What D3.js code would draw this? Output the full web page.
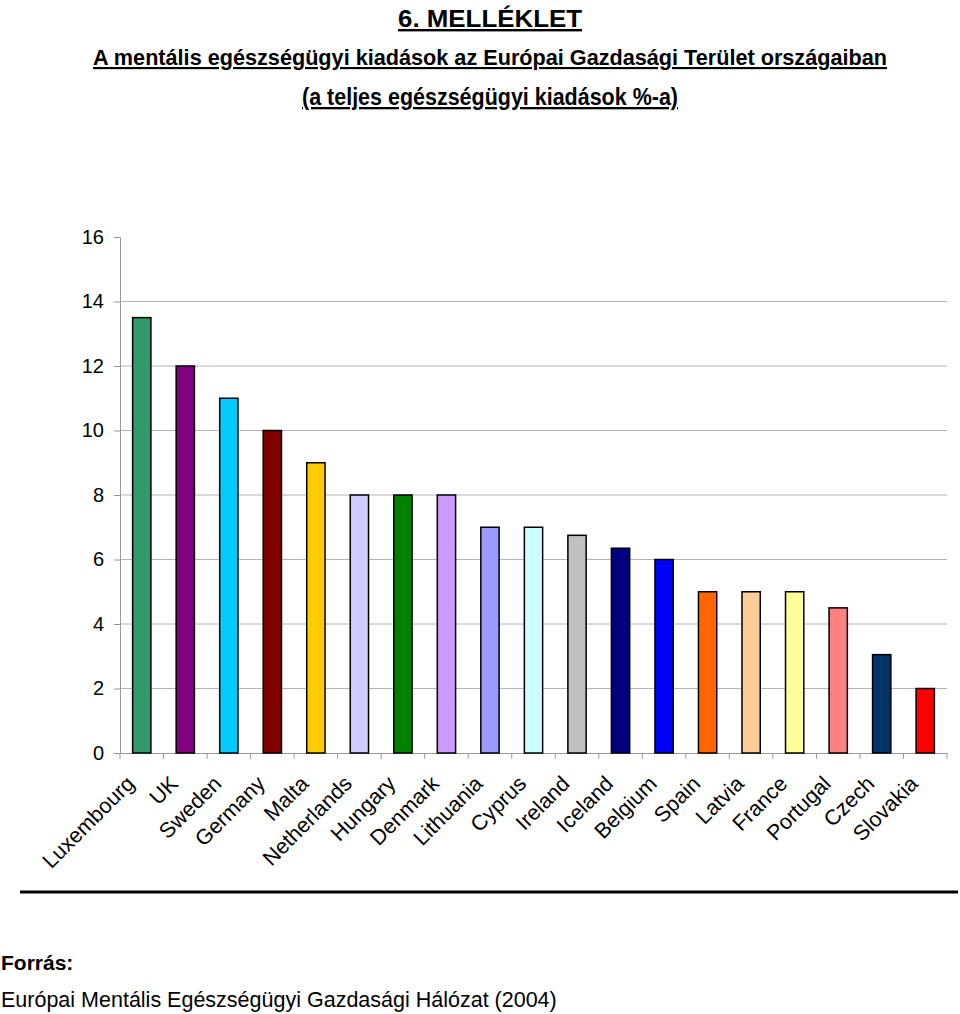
<!DOCTYPE html>
<html><head><meta charset="utf-8">
<script src="https://cdn.jsdelivr.net/npm/d3@7"></script>
<style>body{margin:0;background:#fff}svg{display:block}</style>
</head><body>
<script>
const countries = ["Luxembourg","UK","Sweden","Germany","Malta","Netherlands","Hungary","Denmark","Lithuania","Cyprus","Ireland","Iceland","Belgium","Spain","Latvia","France","Portugal","Czech","Slovakia"];
const values = [13.5,12,11,10,9,8,8,8,7,7,6.75,6.35,6,5,5,5,4.5,3.05,2];
const colors = ["#339966","#800080","#00CCFF","#800000","#FFCC00","#CCCCFF","#008000","#CC99FF","#9999FF","#CCFFFF","#C0C0C0","#000080","#0000FF","#FF6600","#FFCC99","#FFFF99","#FF8080","#003366","#FF0000"];
const yTicks = [0,2,4,6,8,10,12,14,16];
const titleLines = ["6. MELLÉKLET","A mentális egészségügyi kiadások az Európai Gazdasági Terület országaiban","(a teljes egészségügyi kiadások %-a)"];
const sourceLabel = "Forrás:";
const sourceText = "Európai Mentális Egészségügyi Gazdasági Hálózat (2004)";

(function(){
const W=960,H=1014;
const svg=d3.select("body").append("svg").attr("width",W).attr("height",H);
const pL=120,pR=947,pT=237,pB=753;
const x=d3.scaleBand().domain(countries).range([pL,pR]).paddingInner(0.58).paddingOuter(0.29);
const xb=d3.scaleBand().domain(countries).range([pL,pR]);
const y=d3.scaleLinear().domain([0,16]).range([pB,pT]);
const sans="'Liberation Sans',Arial,sans-serif";

// titles (narrow bold emulated with textLength)
const titleSpec=[{x:490,y:27,fs:24,w:184},{x:490,y:65,fs:21.5,w:794},{x:490,y:105,fs:23,w:376}];
titleSpec.forEach((t,i)=>{
  svg.append("text").attr("x",t.x).attr("y",t.y).attr("text-anchor","middle")
    .attr("textLength",t.w).attr("lengthAdjust","spacingAndGlyphs")
    .style("font-family",sans).style("font-weight","bold").style("font-size",t.fs+"px")
    .style("text-decoration","underline").text(titleLines[i]);
});

svg.append("g").selectAll("line").data(yTicks.filter(d=>d>0&&d<16)).join("line")
  .attr("x1",pL).attr("x2",pR).attr("y1",d=>y(d)).attr("y2",d=>y(d))
  .attr("stroke","#b4b4b4").attr("stroke-width",1);

const ya=svg.append("g").attr("transform",`translate(${pL},0)`)
  .call(d3.axisLeft(y).tickValues(yTicks).tickSize(6).tickPadding(10).tickFormat(d3.format("d")));
ya.select(".domain").attr("stroke","#999");
ya.selectAll(".tick line").attr("stroke","#999");
ya.selectAll("text").style("font-family",sans).style("font-size","20px").attr("fill","#000");

const xa=svg.append("g").attr("transform",`translate(0,${pB})`)
  .call(d3.axisBottom(xb).tickSize(0).tickFormat(""));
xa.select(".domain").attr("stroke","#999").attr("d",`M${pL-6},0.5H${pR}`);
xa.selectAll(".tick").remove();
svg.append("g").selectAll("line").data(countries.concat(["_end"])).join("line")
  .attr("x1",(d,i)=>pL+i*xb.bandwidth()).attr("x2",(d,i)=>pL+i*xb.bandwidth())
  .attr("y1",pB).attr("y2",pB+6).attr("stroke","#999");

svg.append("g").selectAll("rect").data(countries).join("rect")
  .attr("x",d=>x(d)).attr("width",x.bandwidth())
  .attr("y",(d,i)=>y(values[i])).attr("height",(d,i)=>pB-y(values[i]))
  .attr("fill",(d,i)=>colors[i]).attr("stroke","#000").attr("stroke-width",1.5);

svg.append("g").selectAll("text").data(countries).join("text")
  .attr("transform",d=>`translate(${xb(d)+xb.bandwidth()/2-6},${pB+32}) rotate(-45)`)
  .attr("text-anchor","end")
  .style("font-family",sans).style("font-size","21.5px")
  .text(d=>d);

svg.append("line").attr("x1",20).attr("x2",958).attr("y1",892).attr("y2",892).attr("stroke","#000").attr("stroke-width",3);

svg.append("text").attr("x",1).attr("y",970).style("font-family",sans)
  .style("font-weight","bold").style("font-size","21px").text(sourceLabel);
svg.append("text").attr("x",1).attr("y",1007).style("font-family",sans)
  .style("font-size","21.5px").text(sourceText);
})();
</script>
</body></html>
